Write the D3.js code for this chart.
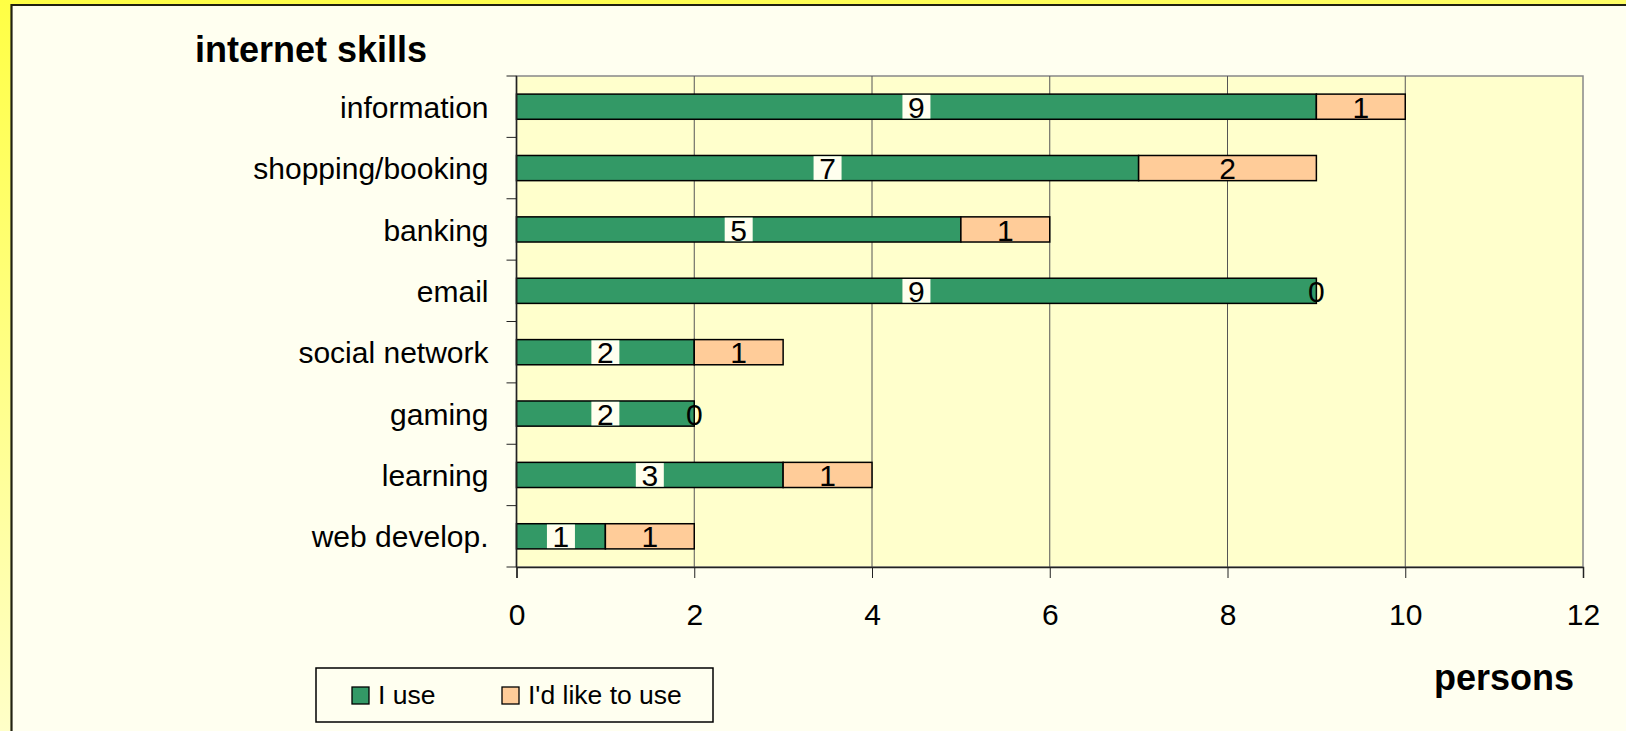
<!DOCTYPE html>
<html>
<head>
<meta charset="utf-8">
<script src="https://cdn.jsdelivr.net/npm/d3@7"></script>
<style>
  html, body { margin: 0; padding: 0; }
  body { width: 1626px; height: 731px; overflow: hidden; }
  svg text { font-family: "Liberation Sans", Arial, sans-serif; }
</style>
</head>
<body>
<svg id="chart"></svg>
<script>
// internet skills - stacked horizontal bars
const categories = ["information", "shopping/booking", "banking", "email", "social network", "gaming", "learning", "web develop."];
const iUse = [9, 7, 5, 9, 2, 2, 3, 1];
const likeToUse = [1, 2, 1, 0, 1, 0, 1, 1];
const seriesNames = ["I use", "I'd like to use"];
const xTicks = [0, 2, 4, 6, 8, 10, 12];

const width = 1626, height = 731;
const margin = { top: 76, right: 43, bottom: 164, left: 516.5 };
const colors = ["#339966", "#ffcc99"];

const svg = d3.select("#chart").attr("width", width).attr("height", height);

// page background: yellow fading out, then the pale panel
const grad = svg.append("defs").append("linearGradient")
  .attr("id", "bg").attr("x1", 0).attr("y1", 0).attr("x2", 0.25).attr("y2", 1);
grad.append("stop").attr("offset", "0%").attr("stop-color", "#ffff44");
grad.append("stop").attr("offset", "100%").attr("stop-color", "#ffffd0");
svg.append("rect").attr("width", width).attr("height", height).attr("fill", "url(#bg)");
svg.append("rect").attr("x", 11).attr("y", 5).attr("width", width).attr("height", height)
  .attr("fill", "#fffff0");
svg.append("path").attr("d", `M11.5,${height} V5 H${width}`)
  .attr("fill", "none").attr("stroke", "#222211").attr("stroke-width", 2.2);

const x = d3.scaleLinear().domain([0, 12]).range([margin.left, width - margin.right]);
const y = d3.scaleBand().domain(categories).range([margin.top, height - margin.bottom]);
const barH = y.step() * 0.41;

// plot area
svg.append("rect")
  .attr("x", x(0)).attr("y", y.range()[0])
  .attr("width", x(12) - x(0)).attr("height", y.range()[1] - y.range()[0])
  .attr("fill", "#ffffcc").attr("stroke", "#888").attr("stroke-width", 1.5);

// vertical grid
svg.append("g").selectAll("line").data(xTicks.filter(d => d > 0 && d < 12)).join("line")
  .attr("x1", d => x(d)).attr("x2", d => x(d))
  .attr("y1", y.range()[0]).attr("y2", y.range()[1])
  .attr("stroke", "#555").attr("stroke-width", 1);

// stacked data
const rows = categories.map((c, i) => ({ cat: c, v: [iUse[i], likeToUse[i]] }));
const segs = [];
rows.forEach(r => {
  let acc = 0;
  r.v.forEach((v, s) => {
    segs.push({ cat: r.cat, s, v, x0: acc, x1: acc + v });
    acc += v;
  });
});

svg.append("g").selectAll("rect").data(segs.filter(d => d.v > 0)).join("rect")
  .attr("x", d => x(d.x0))
  .attr("y", d => y(d.cat) + (y.step() - barH) / 2)
  .attr("width", d => x(d.x1) - x(d.x0))
  .attr("height", barH)
  .attr("fill", d => colors[d.s])
  .attr("stroke", "#000").attr("stroke-width", 1.5);

// x axis
const xAxis = svg.append("g").attr("transform", `translate(0,${y.range()[1]})`)
  .call(d3.axisBottom(x).tickValues(xTicks).tickSize(11).tickPadding(18).tickFormat(d3.format("d")));
xAxis.select(".domain").attr("stroke", "#222").attr("stroke-width", 1.5);
xAxis.selectAll(".tick line").attr("stroke", "#222");
xAxis.selectAll("text").attr("font-size", 30).attr("fill", "#000")
  .attr("dy", "0.95em");

// y axis with ticks between categories
const yAxis = svg.append("g").attr("transform", `translate(${x(0)},0)`);
yAxis.append("line").attr("y1", y.range()[0]).attr("y2", y.range()[1])
  .attr("stroke", "#222").attr("stroke-width", 1.5);
yAxis.selectAll("line.tk").data(d3.range(categories.length + 1)).join("line")
  .attr("class", "tk")
  .attr("x1", -10).attr("x2", 0)
  .attr("y1", i => y.range()[0] + i * y.step()).attr("y2", i => y.range()[0] + i * y.step())
  .attr("stroke", "#222");
yAxis.selectAll("text").data(categories).join("text")
  .attr("x", -28).attr("y", d => y(d) + y.step() / 2)
  .attr("dy", "0.37em").attr("text-anchor", "end")
  .attr("font-size", 30).attr("fill", "#000")
  .text(d => d);

// value labels
const lab = svg.append("g").selectAll("g").data(segs).join("g")
  .attr("transform", d => `translate(${x((d.x0 + d.x1) / 2)},${y(d.cat) + y.step() / 2})`);
lab.filter(d => d.s === 0 && d.v > 0).append("rect")
  .attr("x", -14).attr("y", -barH / 2 + 0.75).attr("width", 28).attr("height", barH - 1.5)
  .attr("fill", "#ffffee");
lab.append("text")
  .attr("text-anchor", "middle").attr("dy", "0.37em")
  .attr("font-size", 30).attr("fill", "#000")
  .text(d => d.v);

// title and axis title
svg.append("text").attr("x", 195).attr("y", 62)
  .attr("font-size", 36).attr("font-weight", "bold").text("internet skills");
svg.append("text").attr("x", 1574).attr("y", 690).attr("text-anchor", "end")
  .attr("font-size", 36).attr("font-weight", "bold").text("persons");

// legend
const legend = svg.append("g");
legend.append("rect").attr("x", 316).attr("y", 668).attr("width", 397).attr("height", 54)
  .attr("fill", "none").attr("stroke", "#000").attr("stroke-width", 1.5);
const lx = d3.scaleOrdinal().domain(seriesNames).range([352, 502]);
const li = legend.selectAll("g").data(seriesNames).join("g")
  .attr("transform", d => `translate(${lx(d)},687)`);
li.append("rect").attr("width", 17).attr("height", 17)
  .attr("fill", (d, i) => colors[i]).attr("stroke", "#000").attr("stroke-width", 1.3);
li.append("text").attr("x", 26).attr("y", 17)
  .attr("font-size", 26.5).attr("fill", "#000").text(d => d);
</script>
</body>
</html>
